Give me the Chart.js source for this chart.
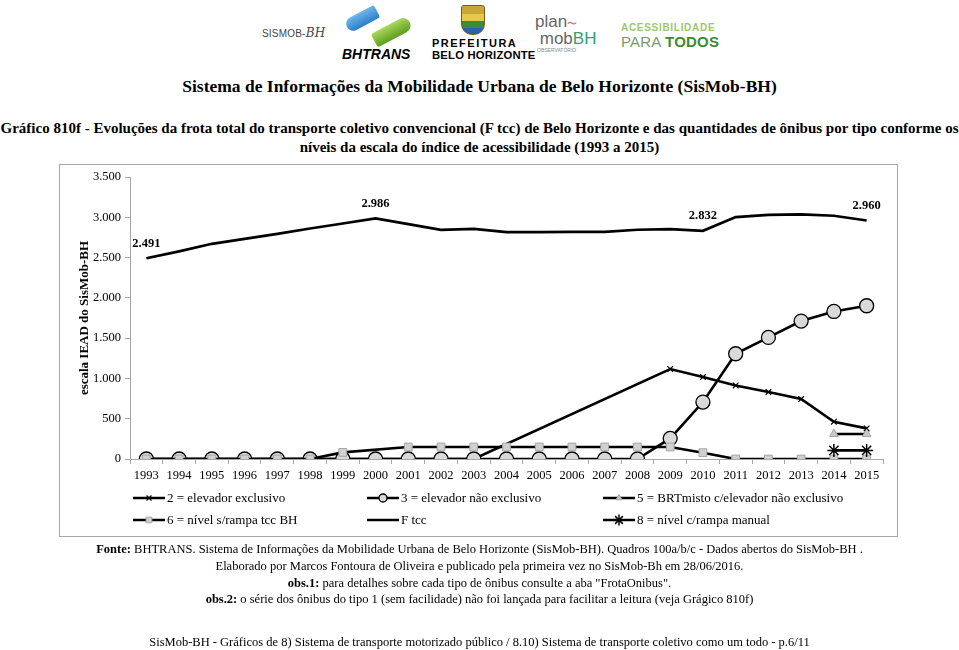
<!DOCTYPE html>
<html>
<head>
<meta charset="utf-8">
<title>Gráfico 810f - SisMob-BH</title>
<script src="https://cdn.jsdelivr.net/npm/chart.js"></script>
<style>
  html, body { margin: 0; padding: 0; width: 959px; height: 650px; overflow: hidden; background: #fff; }
  body { position: relative; font-family: "Liberation Serif", "DejaVu Serif", serif; color: #000; }
  .abs { position: absolute; white-space: nowrap; }
  .center { left: 0; width: 959px; text-align: center; }
  .note { font-size: 12.5px; }
  #frame { position: absolute; left: 59px; top: 164px; width: 837px; height: 371px; border: 1.5px solid #a6a6a6; }
  #chart { position: absolute; left: 0; top: 0; }
  .logo { font-family: "Liberation Sans", Arial, sans-serif; }
</style>
</head>
<body>
  <!-- logos, approximated as text -->
  <div class="abs logo" style="left:262px;top:26px;font-size:10px;color:#444;letter-spacing:0.2px;">SISMOB-<span style="font-family:'DejaVu Serif';font-style:italic;font-size:12px;">BH</span></div>
  <div class="abs" style="left:345px;top:12px;width:34px;height:14px;border-radius:12px 4px 4px 12px;background:linear-gradient(#6fb6ea,#2a7fc9);transform:rotate(-28deg);"></div>
  <div class="abs" style="left:372px;top:24px;width:40px;height:15px;border-radius:4px 12px 12px 4px;background:linear-gradient(#a9d85a,#5e9e1e);transform:rotate(-28deg);"></div>
  <div class="abs logo" style="left:342px;top:46px;font-size:14px;font-weight:bold;font-style:italic;">BHTRANS</div>
  <div class="abs" style="left:461px;top:5px;width:22px;height:28px;border-radius:3px 3px 11px 11px;background:linear-gradient(#c9a83a 0 30%,#e6c84a 30% 55%,#3d8a3a 55% 80%,#2b63a8 80%);border:1px solid #7a5a1a;"></div>
  <div class="abs logo" style="left:432px;top:37px;font-size:11px;font-weight:bold;letter-spacing:1.5px;">PREFEITURA</div>
  <div class="abs logo" style="left:432px;top:49px;font-size:11.5px;font-weight:bold;letter-spacing:0.2px;transform:scaleX(0.98);transform-origin:left;">BELO HORIZONTE</div>
  <div class="abs logo" style="left:535px;top:14px;font-size:17px;color:#666;line-height:15px;">plan<span style="color:#d55;font-size:10px;">&#x301C;</span><br>&nbsp;mob<span style="color:#2ea36a;">BH</span></div>
  <div class="abs logo" style="left:537px;top:47px;font-size:5px;color:#888;">OBSERVATÓRIO</div>
  <div class="abs logo" style="left:621px;top:22px;font-size:10px;font-weight:bold;color:#9cc86a;letter-spacing:0.7px;">ACESSIBILIDADE</div>
  <div class="abs logo" style="left:621px;top:33px;font-size:15px;color:#7a9a6a;letter-spacing:0.2px;">PARA <b style="color:#3f8a35;">TODOS</b></div>

  <div class="abs center" style="top:76px;font-size:17.5px;font-weight:bold;">Sistema de Informações da Mobilidade Urbana de Belo Horizonte (SisMob-BH)</div>
  <div class="abs center" style="top:120px;font-size:15px;font-weight:bold;">Gráfico 810f - Evoluções da frota total do transporte coletivo convencional (F tcc) de Belo Horizonte e das quantidades de ônibus por tipo conforme os</div>
  <div class="abs center" style="top:139px;font-size:15px;font-weight:bold;">níveis da escala do índice de acessibilidade (1993 a 2015)</div>

  <div id="frame"></div>
  <canvas id="chart" width="959" height="650"></canvas>

  <div class="abs center note" style="top:542px;"><b>Fonte:</b> BHTRANS. Sistema de Informações da Mobilidade Urbana de Belo Horizonte (SisMob-BH). Quadros 100a/b/c - Dados abertos do SisMob-BH .</div>
  <div class="abs center note" style="top:559px;">Elaborado por Marcos Fontoura de Oliveira e publicado pela primeira vez no SisMob-Bh em 28/06/2016.</div>
  <div class="abs center note" style="top:576px;"><b>obs.1:</b> para detalhes sobre cada tipo de ônibus consulte a aba "FrotaOnibus".</div>
  <div class="abs center note" style="top:592px;"><b>obs.2:</b> o série dos ônibus do tipo 1 (sem facilidade) não foi lançada para facilitar a leitura (veja Grágico 810f)</div>
  <div class="abs center note" style="top:635px;">SisMob-BH - Gráficos de 8) Sistema de transporte motorizado público / 8.10) Sistema de transporte coletivo como um todo - p.6/11</div>

<script>
// data
const years = ['1993','1994','1995','1996','1997','1998','1999','2000','2001','2002','2003',
               '2004','2005','2006','2007','2008','2009','2010','2011','2012','2013','2014','2015'];
const fTcc  = [2491, 2577, 2671, 2733, 2795, 2861, 2923, 2986, 2915, 2845, 2857,
               2816, 2816, 2818, 2820, 2845, 2853, 2832, 3002, 3031, 3035, 3019, 2960];
const tipo2 = [0, 0, 0, 0, 0, 0, 0, 0, 0, 0, 0,
               null, null, null, null, null, 1117, 1017, 913, 831, 744, 463, 380];
const tipo3 = [0, 0, 0, 0, 0, 0, 0, 0, 0, 0, 0,
               0, 0, 0, 0, 0, 256, 707, 1306, 1509, 1712, 1831, 1902];
const tipo5 = [null, null, null, null, null, null, null, null, null, null, null,
               null, null, null, null, null, null, null, null, null, null, 310, 310];
const tipo6 = [0, 0, 0, 0, 0, 0, 82, null, 149, 149, 149,
               149, 149, 149, 149, 149, 149, 78, 0, 0, 0, 0, 0];
const tipo8 = [null, null, null, null, null, null, null, null, null, null, null,
               null, null, null, null, null, null, null, null, null, null, 107, 107];
const fTccLabelled = [0, 7, 17, 22];

const fmt = v => String(v).replace(/\B(?=(\d{3})+(?!\d))/g, '.');
const SERIF = '"Liberation Serif", "DejaVu Serif", serif';

const datasets = [
  { label: '2 = elevador exclusivo', data: tipo2, order: 5,
    borderColor: '#000', borderWidth: 2.6, pointStyle: 'crossRot', pointRadius: 4,
    pointBorderColor: '#000', pointBorderWidth: 1.2, pointBackgroundColor: '#000', legendRadius: 3.5 },
  { label: '3 = elevador não exclusivo', data: tipo3, order: 4,
    borderColor: '#000', borderWidth: 2.6, pointStyle: 'circle', pointRadius: 7,
    pointBorderColor: '#000', pointBorderWidth: 1.3, pointBackgroundColor: '#d9d9d9', legendRadius: 4 },
  { label: '5 = BRTmisto c/elevador não exclusivo', data: tipo5, order: 2,
    borderColor: '#000', borderWidth: 2.6, pointStyle: 'triangle', pointRadius: 5,
    pointBorderColor: '#a6a6a6', pointBorderWidth: 1, pointBackgroundColor: '#c8c8c8', legendRadius: 3.5 },
  { label: '6 = nível s/rampa tcc BH', data: tipo6, order: 3,
    borderColor: '#000', borderWidth: 2.6, pointStyle: 'rect', pointRadius: 5.5,
    pointBorderColor: '#a6a6a6', pointBorderWidth: 1, pointBackgroundColor: '#d0d0d0', legendRadius: 4 },
  { label: 'F tcc', data: fTcc, order: 6,
    borderColor: '#000', borderWidth: 2.7, pointRadius: 0, legendRadius: 0 },
  { label: '8 = nível c/rampa manual', data: tipo8, order: 1,
    borderColor: '#000', borderWidth: 2.6, pointStyle: 'star', pointRadius: 6.5,
    pointBorderColor: '#000', pointBorderWidth: 1.5, pointBackgroundColor: '#000', legendRadius: 5.5 }
];
// legend order on the picture: row 1 then row 2
const legendOrder = [0, 1, 2, 3, 4, 5];

const labelPlugin = {
  id: 'fTccLabels',
  afterDatasetsDraw(chart) {
    const ctx = chart.ctx;
    const idx = chart.data.datasets.findIndex(d => d.label === 'F tcc');
    const meta = chart.getDatasetMeta(idx);
    ctx.save();
    ctx.font = 'bold 12.5px ' + SERIF;
    ctx.fillStyle = '#000';
    ctx.textAlign = 'center';
    ctx.textBaseline = 'middle';
    fTccLabelled.forEach(i => {
      const p = meta.data[i];
      ctx.fillText(fmt(fTcc[i]), p.x, p.y - 15);
    });
    ctx.restore();
  }
};

const legendPlugin = {
  id: 'gridLegend',
  afterDraw(chart) {
    const ctx = chart.ctx;
    const colX = [133, 367, 603];
    const rowY = [498, 520];
    ctx.save();
    legendOrder.forEach((di, k) => {
      const ds = chart.data.datasets[di];
      const x = colX[k % 3], y = rowY[Math.floor(k / 3)];
      ctx.strokeStyle = ds.borderColor;
      ctx.lineWidth = 2.5;
      ctx.beginPath();
      ctx.moveTo(x, y);
      ctx.lineTo(x + 32, y);
      ctx.stroke();
      if (ds.legendRadius) {
        ctx.fillStyle = ds.pointBackgroundColor;
        ctx.strokeStyle = ds.pointBorderColor;
        ctx.lineWidth = ds.pointBorderWidth;
        Chart.helpers.drawPoint(ctx, { pointStyle: ds.pointStyle, radius: ds.legendRadius,
          borderWidth: ds.pointBorderWidth, rotation: 0 }, x + 16, y);
      }
      ctx.fillStyle = '#000';
      ctx.font = '13px ' + SERIF;
      ctx.textAlign = 'left';
      ctx.textBaseline = 'middle';
      ctx.fillText(ds.label, x + 34, y + 1);
    });
    ctx.restore();
  }
};

new Chart(document.getElementById('chart').getContext('2d'), {
  type: 'line',
  data: { labels: years, datasets },
  plugins: [labelPlugin, legendPlugin],
  options: {
    responsive: false,
    animation: false,
    spanGaps: true,
    layout: { padding: { left: 60, top: 177, right: 76, bottom: 166 } },
    plugins: { legend: { display: false }, tooltip: { enabled: false } },
    elements: { line: { tension: 0 } },
    scales: {
      x: {
        offset: true,
        afterFit: s => { s.height = 25; },
        border: { color: '#a6a6a6', width: 1 },
        grid: { drawOnChartArea: false, offset: true, tickLength: 5, color: '#a6a6a6' },
        ticks: { color: '#000', font: { family: SERIF, size: 12.5 }, padding: 4, maxRotation: 0, autoSkip: false }
      },
      y: {
        min: 0, max: 3500,
        afterFit: s => { s.width = 70; },
        border: { color: '#a6a6a6', width: 1 },
        grid: { drawOnChartArea: false, tickLength: 5, color: '#a6a6a6' },
        ticks: { stepSize: 500, color: '#000', font: { family: SERIF, size: 12.5 }, padding: 4,
                 callback: v => fmt(v) },
        title: { display: true, text: 'escala IEAD do SisMob-BH', color: '#000',
                 font: { family: SERIF, size: 13, weight: 'bold' }, padding: { top: 17, bottom: 0 } }
      }
    }
  }
});
</script>
</body>
</html>
